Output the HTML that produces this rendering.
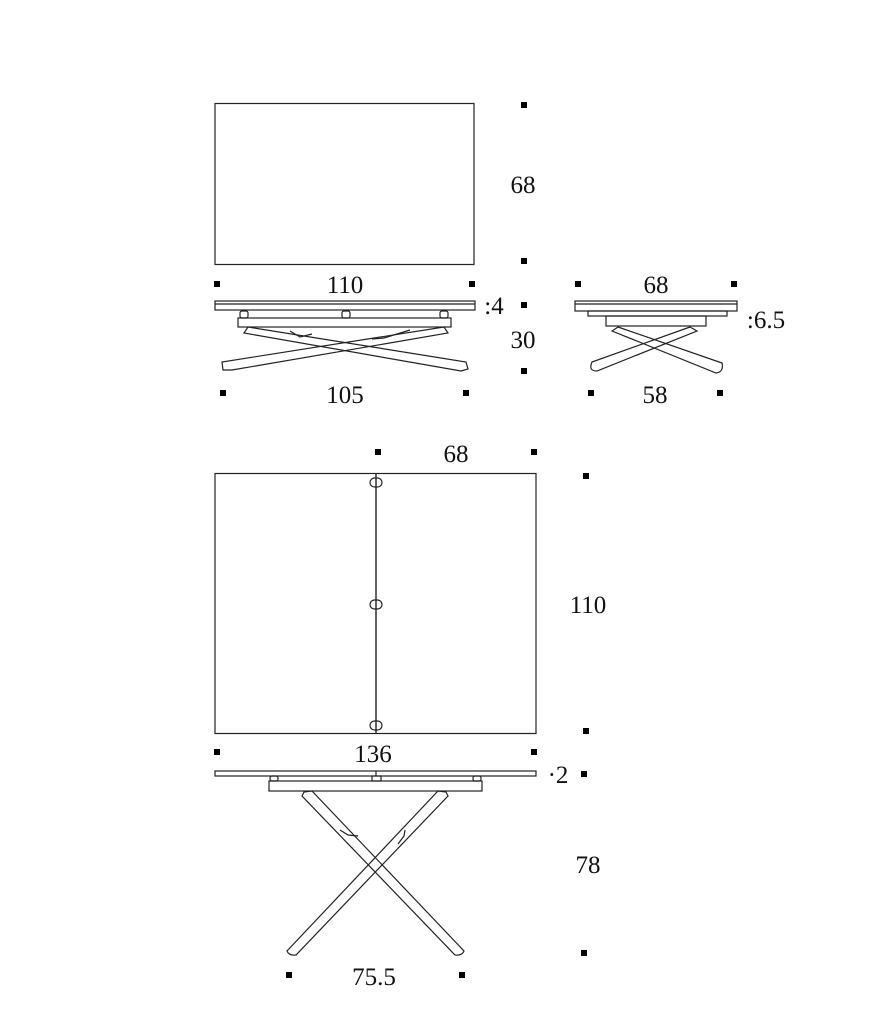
<!DOCTYPE html>
<html><head><meta charset="utf-8"><style>
html,body{margin:0;padding:0;background:#fff;}
svg{display:block}
text{font-family:"Liberation Serif",serif;font-size:25px;fill:#111;text-anchor:middle}
</style></head><body>
<svg width="894" height="1024" viewBox="0 0 894 1024" xmlns="http://www.w3.org/2000/svg">
<g fill="#000">
<rect x="521" y="102" width="6" height="6"/><rect x="521" y="258" width="6" height="6"/>
<rect x="214" y="281" width="6" height="6"/><rect x="469" y="281" width="6" height="6"/>
<rect x="521" y="302" width="6" height="6"/><rect x="521" y="368" width="6" height="6"/>
<rect x="220" y="390" width="6" height="6"/><rect x="463" y="390" width="6" height="6"/>
<rect x="575" y="281" width="6" height="6"/><rect x="731" y="281" width="6" height="6"/>
<rect x="588" y="390" width="6" height="6"/><rect x="717" y="390" width="6" height="6"/>
<rect x="375" y="449" width="6" height="6"/><rect x="531" y="449" width="6" height="6"/>
<rect x="583" y="473" width="6" height="6"/><rect x="583" y="728" width="6" height="6"/>
<rect x="214" y="749" width="6" height="6"/><rect x="531" y="749" width="6" height="6"/>
<rect x="581" y="771" width="6" height="6"/><rect x="581" y="950" width="6" height="6"/>
<rect x="286" y="972" width="6" height="6"/><rect x="459" y="972" width="6" height="6"/>
</g>
<g fill="none" stroke="#222" stroke-width="1.2">
<rect x="215" y="103.5" width="259" height="161"/>
<rect x="215" y="301" width="260" height="9"/>
<line x1="215" y1="304" x2="475" y2="304"/>
<rect x="238" y="318" width="213" height="9"/>
<rect x="240" y="311" width="8" height="7" rx="2"/><rect x="342" y="311" width="8" height="7" rx="2"/><rect x="440" y="311" width="8" height="7" rx="2"/>
<path d="M248,327 L466,362 L468,369 L461,371 L244,333 Z"/>
<path d="M444,327 L222,362 L223,370 L232,370 L448,333 Z"/>
<path d="M290,331 L300,337 L312,334"/><path d="M410,330 L384,338 L372,339"/>
<rect x="575" y="301" width="162" height="10"/>
<line x1="575" y1="304" x2="737" y2="304"/>
<rect x="588" y="311" width="139" height="5"/>
<rect x="606" y="316" width="100" height="10"/>
<path d="M618,327 L722,363 Q724,372 716,373 L612,331 Z"/>
<path d="M690,327 L592,362 Q588,371 597,371 L697,331 Z"/>
<rect x="215" y="473.5" width="321" height="260"/>
<line x1="376" y1="473" x2="376" y2="733" stroke-width="1.4"/>
<rect x="370" y="478" width="12" height="9" rx="4.5"/>
<rect x="370" y="600" width="12" height="9" rx="4.5"/>
<rect x="370" y="721" width="12" height="9" rx="4.5"/>
<rect x="215" y="771" width="321" height="5"/>
<rect x="269" y="781" width="213" height="10"/>
<rect x="270" y="776" width="8" height="5" rx="2"/><rect x="372" y="776" width="9" height="5"/><rect x="473" y="776" width="8" height="5" rx="2"/>
<line x1="376" y1="771" x2="376" y2="776"/>
<path d="M304,792 L312,791 L464,951 Q462,956 455,955 L302,796 Z"/>
<path d="M446,792 L438,791 L287,951 Q289,956 296,955 L448,796 Z"/>
<path d="M340,830 L348,835 L358,836"/><path d="M405,830 L404,836 L398,844"/>
</g>
<text x="523" y="193">68</text>
<text x="345" y="293">110</text>
<text x="494" y="314">:4</text>
<text x="523" y="348">30</text>
<text x="345" y="403">105</text>
<text x="656" y="293">68</text>
<text x="766" y="328">:6.5</text>
<text x="655" y="403">58</text>
<text x="456" y="462">68</text>
<text x="588" y="613">110</text>
<text x="373" y="762">136</text>
<text x="558" y="783">·2</text>
<text x="588" y="873">78</text>
<text x="374" y="985">75.5</text>
</svg>
</body></html>
